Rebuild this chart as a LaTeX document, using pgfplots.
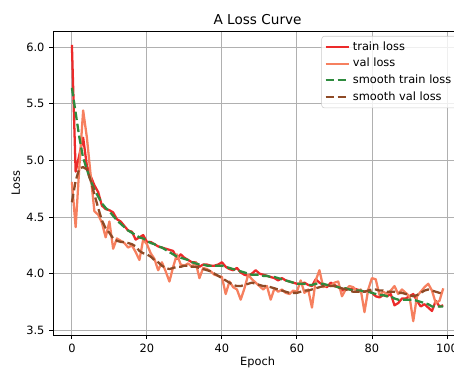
\documentclass[border=0pt]{standalone}
\usepackage{fontspec}
\setmainfont{DejaVu Sans}
\usepackage{pgfplots}
\usepackage{pgfplotstable}
\pgfplotsset{compat=1.18}
\definecolor{trainc}{HTML}{EC2A2A}
\definecolor{valc}{HTML}{F6805F}
\definecolor{strainc}{HTML}{2E8B3E}
\definecolor{svalc}{HTML}{8E4A26}
\definecolor{gridc}{HTML}{B0B0B0}
\definecolor{legc}{HTML}{CCCCCC}

\pgfplotstableread{
ep train val strain sval
0 6.02 4.81 5.64 4.63
1 4.90 4.41 5.42 4.82
2 5.05 4.95 5.20 4.93
3 5.20 5.44 5.02 4.94
4 4.95 5.20 4.92 4.92
5 4.86 4.87 4.82 4.82
6 4.78 4.55 4.74 4.70
7 4.72 4.52 4.68 4.58
8 4.60 4.45 4.62 4.47
9 4.57 4.32 4.58 4.40
10 4.56 4.46 4.55 4.36
11 4.54 4.22 4.51 4.31
12 4.48 4.31 4.47 4.29
13 4.46 4.29 4.44 4.28
14 4.42 4.27 4.41 4.28
15 4.38 4.23 4.38 4.27
16 4.37 4.25 4.36 4.26
17 4.30 4.19 4.34 4.24
18 4.32 4.12 4.32 4.20
19 4.34 4.30 4.31 4.18
20 4.28 4.26 4.29 4.17
21 4.28 4.18 4.27 4.15
22 4.26 4.13 4.26 4.12
23 4.24 4.03 4.24 4.10
24 4.23 4.10 4.23 4.07
25 4.22 4.02 4.21 4.05
26 4.21 3.93 4.19 4.04
27 4.20 4.06 4.17 4.05
28 4.13 4.17 4.15 4.06
29 4.17 4.08 4.14 4.06
30 4.14 4.07 4.13 4.07
31 4.12 4.09 4.12 4.07
32 4.10 4.06 4.10 4.06
33 4.10 4.10 4.09 4.06
34 4.06 3.96 4.08 4.05
35 4.08 4.05 4.08 4.04
36 4.08 4.04 4.07 4.03
37 4.07 4.02 4.07 4.02
38 4.07 3.99 4.07 4.00
39 4.08 3.98 4.07 3.98
40 4.10 3.97 4.07 3.96
41 4.06 3.82 4.06 3.94
42 4.04 3.93 4.05 3.92
43 4.03 3.88 4.04 3.90
44 4.05 3.86 4.03 3.89
45 4.01 3.77 4.02 3.89
46 3.99 3.87 4.01 3.90
47 3.98 3.99 4.00 3.91
48 4.00 3.95 3.99 3.92
49 4.03 3.92 3.99 3.91
50 4.00 3.89 3.99 3.90
51 3.99 3.86 3.98 3.89
52 3.98 3.89 3.98 3.89
53 3.97 3.77 3.97 3.88
54 3.96 3.87 3.97 3.87
55 3.94 3.84 3.96 3.86
56 3.96 3.86 3.95 3.85
57 3.94 3.83 3.94 3.84
58 3.93 3.82 3.93 3.83
59 3.92 3.85 3.92 3.83
60 3.91 3.84 3.91 3.83
61 3.91 3.94 3.91 3.84
62 3.92 3.83 3.91 3.85
63 3.90 3.86 3.90 3.85
64 3.89 3.70 3.90 3.86
65 3.95 3.94 3.91 3.87
66 3.92 4.03 3.91 3.88
67 3.90 3.88 3.91 3.89
68 3.88 3.90 3.90 3.90
69 3.92 3.89 3.90 3.89
70 3.90 3.92 3.89 3.89
71 3.88 3.93 3.88 3.88
72 3.85 3.80 3.87 3.87
73 3.87 3.86 3.87 3.86
74 3.86 3.89 3.86 3.85
75 3.87 3.88 3.85 3.84
76 3.86 3.84 3.85 3.84
77 3.85 3.86 3.85 3.84
78 3.84 3.66 3.84 3.84
79 3.85 3.86 3.84 3.85
80 3.83 3.96 3.83 3.86
81 3.80 3.95 3.82 3.86
82 3.79 3.81 3.81 3.85
83 3.81 3.84 3.81 3.85
84 3.80 3.82 3.80 3.84
85 3.82 3.85 3.80 3.84
86 3.72 3.89 3.78 3.84
87 3.74 3.82 3.77 3.83
88 3.78 3.86 3.77 3.83
89 3.78 3.83 3.77 3.82
90 3.80 3.80 3.77 3.81
91 3.82 3.58 3.77 3.80
92 3.76 3.80 3.76 3.81
93 3.71 3.84 3.75 3.83
94 3.73 3.88 3.74 3.85
95 3.70 3.91 3.73 3.86
96 3.67 3.85 3.71 3.85
97 3.76 3.74 3.71 3.84
98 3.71 3.76 3.71 3.83
99 3.72 3.87 3.71 3.82
}\loss

\begin{document}
\begin{tikzpicture}
\begin{axis}[
  scale only axis,
  width=294.1pt, height=218.9pt,
  xmin=-4.95, xmax=103.95, ymin=3.458, ymax=6.142,
  xtick={0,20,40,60,80,100},
  ytick={3.5,4.0,4.5,5.0,5.5,6.0},
  yticklabel style={/pgf/number format/.cd, fixed, fixed zerofill, precision=1},
  /pgf/number format/assume math mode=true,
  tick align=outside, major tick length=2.9pt,
  xtick pos=bottom, ytick pos=left,
  tick style={black, line width=0.66pt},
  axis line style={black, line width=0.66pt},
  grid=major, grid style={gridc, line width=0.66pt},
  tick label style={font=\fontsize{8.2}{10}\selectfont},
  label style={font=\fontsize{8.2}{10}\selectfont},
  xlabel={Epoch}, ylabel={Loss},
  xlabel style={at={([yshift=-22pt]axis description cs:0.5,0)}, anchor=base},
  ylabel style={at={([xshift=-20.5pt]axis description cs:0,0.5)}, anchor=south},
  title={A Loss Curve},
  title style={font=\fontsize{9.8}{12}\selectfont, at={(0.5,1)}, anchor=base, yshift=-1.5pt},
  legend style={at={(1,1)}, anchor=north east, xshift=-3.6pt, yshift=-3.6pt,
    draw=legc, rounded corners=2pt, fill=white, fill opacity=0.8, text opacity=1,
    font=\fontsize{8.2}{10}\selectfont, inner sep=2pt,
    nodes={inner sep=1.8pt, text height=6.4pt, text depth=1.9pt}},
  legend cell align=left,
  legend image code/.code={\draw[#1] (0pt,0pt) -- (17pt,0pt);},
  every axis plot/.append style={line width=1.64pt, line join=round},
]
\addplot[trainc] table[x=ep, y=train] {\loss};
\addlegendentry{train loss}
\addplot[valc] table[x=ep, y=val] {\loss};
\addlegendentry{val loss}
\addplot[strainc, dash pattern=on 6.1pt off 2.6pt] table[x=ep, y=strain] {\loss};
\addlegendentry{smooth train loss}
\addplot[svalc, dash pattern=on 6.1pt off 2.6pt] table[x=ep, y=sval] {\loss};
\addlegendentry{smooth val loss}
\end{axis}
\pgfresetboundingbox
\path[use as bounding box] ([xshift=-38.4pt,yshift=-26.64pt]current axis.south west) rectangle ++(326.88pt,267.84pt);
\end{tikzpicture}
\end{document}
